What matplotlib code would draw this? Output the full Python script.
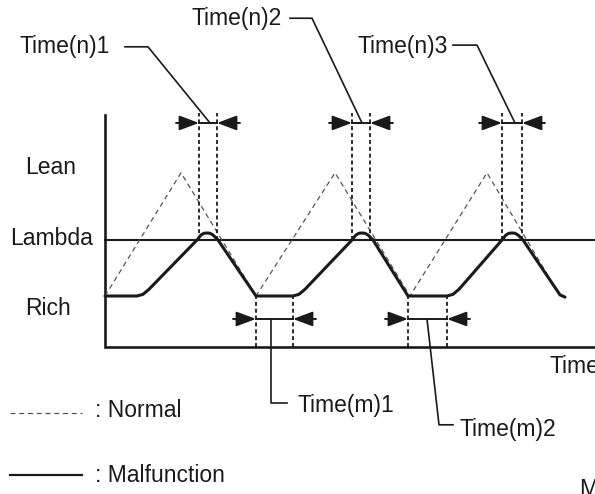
import matplotlib.pyplot as plt

# Time axis is in arbitrary units, level: 0 = rich, 1 = lambda
malfunctionTime = [0, 32, 38, 44, 92, 96, 99, 102, 105, 108, 113, 151,
                   188, 194, 200, 247, 251, 254, 257, 260, 263, 268, 303,
                   342, 348, 354, 397, 401, 404, 407, 410, 413, 418, 455, 460]
malfunctionLevel = [0, 0, 0.03, 0.12, 1.0, 1.09, 1.12, 1.125, 1.12, 1.09, 1.0, 0,
                    0, 0.03, 0.12, 1.0, 1.09, 1.12, 1.125, 1.12, 1.09, 1.0, 0,
                    0, 0.03, 0.12, 1.0, 1.09, 1.12, 1.125, 1.12, 1.09, 1.0, 0.02, -0.02]
normalTime = [0, 76, 151, 230, 305, 382, 455]
normalLevel = [0, 2.2, 0, 2.2, 0, 2.2, 0]

leanWindows = [(94, 112), (247, 265), (397, 417)]
leanLabels = ["Time(n)1", "Time(n)2", "Time(n)3"]
richWindows = [(151, 188), (303, 342)]
richLabels = ["Time(m)1", "Time(m)2"]

levelTicks = [2.3, 1.03, -0.23]
levelLabels = ["Lean", "Lambda", "Rich"]

axisTop = 3.23
axisBottom = -0.91
axisEnd = 490

INK = "#1a1a1a"
FONT = "Liberation Sans"
SIZE = 16.5


def arrowHead(ax, tail, tip, level):
    ax.annotate("", xy=(tip, level), xytext=(tail, level),
                arrowprops=dict(arrowstyle="-|>,head_length=1.2,head_width=0.45", color=INK, lw=1.4,
                                shrinkA=0, shrinkB=0, mutation_scale=10))


def windowMarker(ax, window, arrowLevel, lineTop, lineBottom):
    start, end = window
    for t in window:
        ax.plot([t, t], [lineBottom, lineTop], color=INK, lw=1.3, dashes=(2.2, 1.6))
    ax.plot([start, end], [arrowLevel, arrowLevel], color=INK, lw=1.4)
    arrowHead(ax, start - 23, start, arrowLevel)
    arrowHead(ax, end + 23, end, arrowLevel)


fig = plt.figure(figsize=(5.95, 4.94), dpi=100)
ax = fig.add_axes([0, 0, 1, 1])
ax.set_xlim(-105, 490)
ax.set_ylim(-198 / 56, 296 / 56)
ax.axis("off")

# axes and lambda line
ax.plot([0, 0, axisEnd], [axisTop, axisBottom, axisBottom], color=INK, lw=1.9, solid_joinstyle="miter")
ax.plot([0, axisEnd], [1, 1], color=INK, lw=1.5)

ax.plot(normalTime, normalLevel, color="#555555", lw=0.9, dashes=(4, 3))
ax.plot(malfunctionTime, malfunctionLevel, color=INK, lw=2.2, solid_joinstyle="round", solid_capstyle="round")

for window in leanWindows:
    windowMarker(ax, window, 3.09, 3.27, 1.0)
for window in richWindows:
    windowMarker(ax, window, -0.41, 0, axisBottom)

# leaders
leanLeaders = [([20, 43, 105], [4.45, 4.45, 3.09]),
               ([185, 207, 257], [4.96, 4.96, 3.09]),
               ([348, 372, 410], [4.48, 4.48, 3.09])]
for xs, ys in leanLeaders:
    ax.plot(xs, ys, color=INK, lw=1.2)
richLeaders = [([166, 166, 182], [-0.41, -1.91, -1.91]),
               ([322, 334, 348], [-0.41, -2.30, -2.30])]
for xs, ys in richLeaders:
    ax.plot(xs, ys, color=INK, lw=1.2)

textStyle = dict(family=FONT, fontsize=SIZE, color=INK, va="center")
for label, (x, y) in zip(leanLabels, [(-85, 4.45), (87, 4.96), (252, 4.45)]):
    ax.text(x, y, label, **textStyle)
for label, (x, y) in zip(richLabels, [(193, -1.95), (354, -2.39)]):
    ax.text(x, y, label, **textStyle)
for label, level, x in zip(levelLabels, levelTicks, [-80, -95, -80]):
    ax.text(x, level, label, **textStyle)
ax.text(444, -1.25, "Time", **textStyle)

# legend
ax.plot([-95, -23], [-2.09, -2.09], color="#555555", lw=0.9, dashes=(4, 3))
ax.text(-10, -2.04, ": Normal", **textStyle)
ax.plot([-95, -23], [-3.2, -3.2], color=INK, lw=1.6)
ax.text(-10, -3.2, ": Malfunction", **textStyle)
ax.text(474, -3.25, "M", family=FONT, fontsize=SIZE, color=INK, va="top")

fig.savefig("out.png", dpi=100)
